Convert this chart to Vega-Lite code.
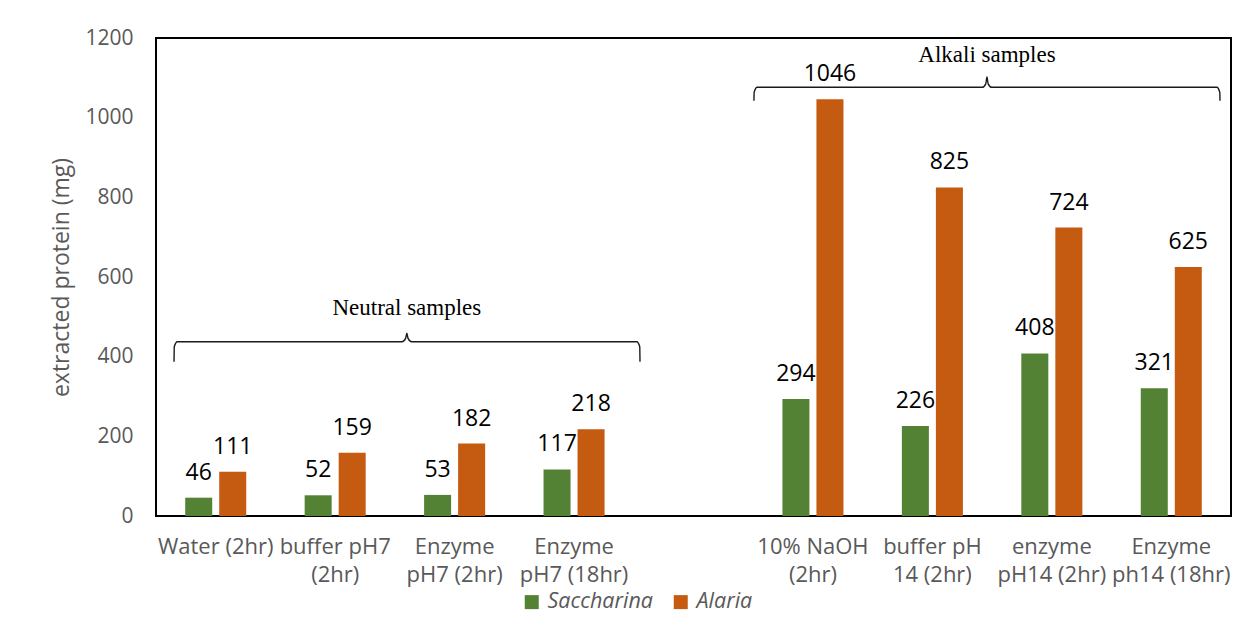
{
  "$schema": "https://vega.github.io/schema/vega-lite/v6.json",
  "width": 1075,
  "height": 478,
  "autosize": {"type": "none"},
  "padding": {"left": 156, "top": 38, "right": 17, "bottom": 118},
  "background": "white",
  "config": {
    "view": {"stroke": "#000000", "strokeWidth": 2},
    "font": "Open Sans"
  },
  "datasets": {
    "bars": [
      {"sample": "Water (2hr)", "species": "Saccharina", "protein": 46},
      {"sample": "Water (2hr)", "species": "Alaria", "protein": 111},
      {"sample": "buffer pH7|(2hr)", "species": "Saccharina", "protein": 52},
      {"sample": "buffer pH7|(2hr)", "species": "Alaria", "protein": 159},
      {"sample": "Enzyme|pH7 (2hr)", "species": "Saccharina", "protein": 53},
      {"sample": "Enzyme|pH7 (2hr)", "species": "Alaria", "protein": 182},
      {"sample": "Enzyme|pH7 (18hr)", "species": "Saccharina", "protein": 117},
      {"sample": "Enzyme|pH7 (18hr)", "species": "Alaria", "protein": 218},
      {"sample": "10% NaOH|(2hr)", "species": "Saccharina", "protein": 294},
      {"sample": "10% NaOH|(2hr)", "species": "Alaria", "protein": 1046},
      {"sample": "buffer pH|14 (2hr)", "species": "Saccharina", "protein": 226},
      {"sample": "buffer pH|14 (2hr)", "species": "Alaria", "protein": 825},
      {"sample": "enzyme|pH14 (2hr)", "species": "Saccharina", "protein": 408},
      {"sample": "enzyme|pH14 (2hr)", "species": "Alaria", "protein": 724},
      {"sample": "Enzyme|ph14 (18hr)", "species": "Saccharina", "protein": 321},
      {"sample": "Enzyme|ph14 (18hr)", "species": "Alaria", "protein": 625}
    ],
    "braces": [
      {"group": "Neutral", "slot": 0.151, "level": 387},
      {"group": "Neutral", "slot": 0.153, "level": 425},
      {"group": "Neutral", "slot": 0.178, "level": 437.6},
      {"group": "Neutral", "slot": 2.06, "level": 437.6},
      {"group": "Neutral", "slot": 2.09, "level": 446},
      {"group": "Neutral", "slot": 2.10, "level": 459},
      {"group": "Neutral", "slot": 2.11, "level": 446},
      {"group": "Neutral", "slot": 2.14, "level": 437.6},
      {"group": "Neutral", "slot": 4.025, "level": 437.6},
      {"group": "Neutral", "slot": 4.050, "level": 425},
      {"group": "Neutral", "slot": 4.052, "level": 387},
      {"group": "Alkali", "slot": 5.006, "level": 1042.6},
      {"group": "Alkali", "slot": 5.008, "level": 1064},
      {"group": "Alkali", "slot": 5.033, "level": 1076.2},
      {"group": "Alkali", "slot": 6.917, "level": 1076.2},
      {"group": "Alkali", "slot": 6.947, "level": 1085},
      {"group": "Alkali", "slot": 6.957, "level": 1102},
      {"group": "Alkali", "slot": 6.967, "level": 1085},
      {"group": "Alkali", "slot": 6.997, "level": 1076.2},
      {"group": "Alkali", "slot": 8.881, "level": 1076.2},
      {"group": "Alkali", "slot": 8.906, "level": 1064},
      {"group": "Alkali", "slot": 8.908, "level": 1042.6}
    ],
    "braceLabels": [
      {"label": "Neutral samples", "slot": 2.10, "level": 504},
      {"label": "Alkali samples", "slot": 6.957, "level": 1140}
    ]
  },
  "layer": [
    {
      "data": {"name": "bars"},
      "encoding": {
        "x": {
          "field": "sample", "type": "nominal",
          "scale": {
            "domain": ["Water (2hr)", "buffer pH7|(2hr)", "Enzyme|pH7 (2hr)", "Enzyme|pH7 (18hr)", " ", "10% NaOH|(2hr)", "buffer pH|14 (2hr)", "enzyme|pH14 (2hr)", "Enzyme|ph14 (18hr)"],
            "paddingInner": 0.489, "paddingOuter": 0.2445
          },
          "axis": {
            "title": null, "labelAngle": 0, "domain": false, "ticks": false, "tickSize": 0,
            "labelPadding": 20, "labelFont": "Open Sans", "labelFontSize": 22,
            "labelColor": "#595959", "labelLineHeight": 28,
            "labelExpr": "split(datum.label, '|')"
          }
        },
        "xOffset": {
          "field": "species", "type": "nominal",
          "scale": {"domain": ["Saccharina", "Alaria"], "paddingInner": 0.206, "paddingOuter": 0}
        },
        "y": {
          "field": "protein", "type": "quantitative",
          "scale": {"domain": [0, 1200], "nice": false},
          "axis": {
            "title": "extracted protein (mg)", "values": [0, 200, 400, 600, 800, 1000, 1200],
            "format": "d",
            "grid": false, "domain": false, "ticks": false, "tickSize": 0,
            "labelPadding": 23, "labelFont": "Open Sans", "labelFontSize": 21, "labelColor": "#595959",
            "titleFont": "Open Sans", "titleFontSize": 23, "titleFontWeight": "normal",
            "titleColor": "#595959", "titlePadding": 11
          }
        }
      },
      "layer": [
        {
          "mark": {"type": "bar"},
          "encoding": {
            "color": {
              "field": "species", "type": "nominal",
              "scale": {"domain": ["Saccharina", "Alaria"], "range": ["#548235", "#C55A11"]},
              "legend": {
                "title": null, "orient": "none", "direction": "horizontal",
                "legendX": 365, "legendY": 553,
                "symbolType": "square", "symbolSize": 196, "symbolStrokeWidth": 0,
                "labelFont": "Open Sans", "labelFontStyle": "italic", "labelFontSize": 21.5,
                "labelColor": "#595959", "labelOffset": 5, "columnPadding": 17
              }
            }
          }
        },
        {
          "mark": {"type": "text", "baseline": "alphabetic", "dy": -18, "font": "Open Sans", "fontSize": 23, "color": "#000000"},
          "encoding": {
            "text": {"field": "protein", "type": "quantitative"}
          }
        }
      ]
    },
    {
      "encoding": {
        "x": {"field": "slot", "type": "quantitative", "scale": {"domain": [0, 9], "nice": false, "zero": false}, "axis": null},
        "y": {"field": "level", "type": "quantitative"}
      },
      "layer": [
        {
          "data": {"name": "braces"},
          "mark": {"type": "line", "color": "#1a1a1a", "strokeWidth": 1.4, "interpolate": "monotone"},
          "encoding": {
            "detail": {"field": "group", "type": "nominal"}
          }
        },
        {
          "data": {"name": "braceLabels"},
          "mark": {"type": "text", "baseline": "alphabetic", "align": "center", "font": "Liberation Serif", "fontSize": 23, "color": "#000000"},
          "encoding": {
            "text": {"field": "label", "type": "nominal"}
          }
        }
      ]
    }
  ],
  "resolve": {"scale": {"x": "independent"}}
}
